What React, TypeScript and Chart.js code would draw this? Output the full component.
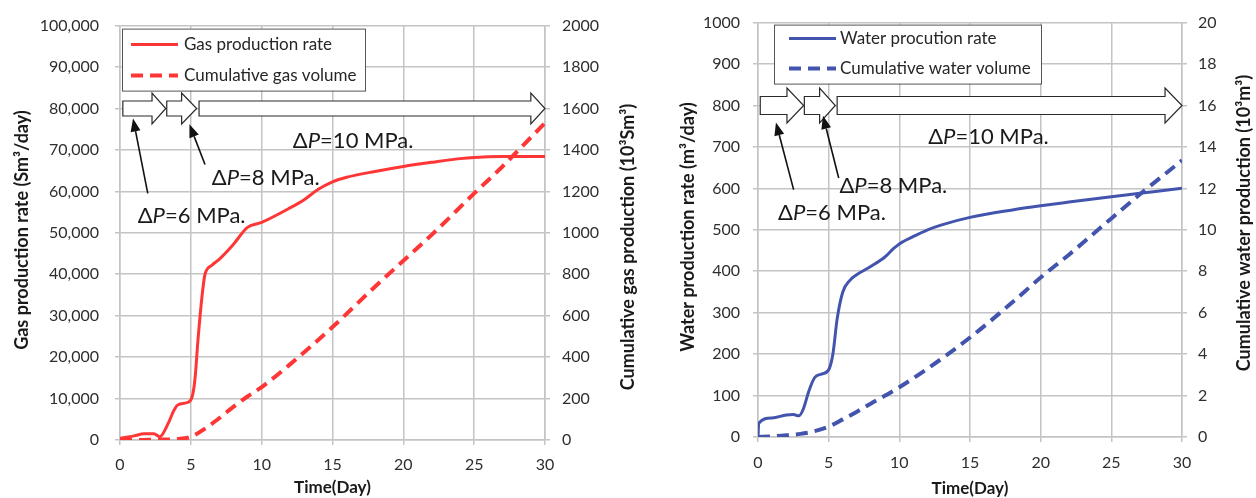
import React, { useEffect, useRef } from "react";
import { Chart, registerables } from "chart.js";

Chart.register(...registerables);

const FONT = "Lato, 'Open Sans', 'DejaVu Sans', sans-serif";

// ---------------- Gas chart data ----------------
const gasRateDays = [0, 1, 1.7, 2.4, 2.8, 3.4, 3.8, 4.1, 4.8, 5.1, 5.3, 5.5, 5.8, 6, 6.5, 7, 8, 9, 10, 12, 13, 14, 15, 16, 18, 20, 22, 24, 25, 27, 30];
const gasRate = [400, 1000, 1500, 1500, 800, 4000, 7100, 8500, 9100, 10500, 15000, 24000, 35000, 40000, 42200, 43600, 47200, 51300, 52500, 56000, 58000, 60500, 62300, 63400, 64800, 66000, 67000, 67900, 68200, 68400, 68400];
const gasCumDays = [0, 1, 2, 3, 4, 5, 6, 7, 8, 9, 10, 12, 15, 18, 20, 22, 25, 27, 28, 30];
const gasCum = [0, 0, 1, 2, 5, 15, 55, 105, 160, 210, 255, 365, 545, 740, 865, 990, 1190, 1320, 1390, 1530];

// ---------------- Water chart data ----------------
const waterRateDays = [0, 0.05, 1, 2, 2.5, 2.9, 3.2, 3.6, 4, 4.5, 5, 5.3, 5.6, 6, 6.5, 7, 8, 9, 9.6, 10, 11, 12, 13, 15, 18, 20, 22, 25, 27, 30];
const waterRate = [0, 33, 46, 53, 54, 51, 67, 111, 143, 152, 162, 200, 285, 350, 378, 392, 412, 435, 455, 466, 484, 500, 512, 530, 548, 558, 567, 580, 588, 600];
const waterCumDays = [0, 1, 2, 3, 4, 5, 6, 7, 8, 9, 10, 12, 15, 18, 20, 22, 25, 27, 30];
const waterCum = [0, 0.03, 0.08, 0.15, 0.28, 0.5, 0.85, 1.22, 1.62, 2.0, 2.4, 3.3, 4.8, 6.5, 7.7, 8.8, 10.55, 11.7, 13.35];

// ---------------- Annotations (data units) ----------------
// pressure stages: [start day, head start day, tip day]
const gasStages = [[0.2, 2.26, 3.23], [3.3, 4.35, 5.41], [5.58, 29.0, 30]];
const gasStageLevel = 80000;
const gasPointers = [
  { from: [1.96, 59500], to: [0.92, 77600] },
  { from: [6.0, 66500], to: [4.9, 76200] },
];
const gasDpLabels = [
  { x: 1.25, y: 54000, v: "6" },
  { x: 6.48, y: 63300, v: "8" },
  { x: 12.2, y: 72200, v: "10" },
];

const waterStages = [[0.16, 2.05, 3.23], [3.28, 4.36, 5.47], [5.6, 28.8, 30]];
const waterStageLevel = 800;
const waterPointers = [
  { from: [2.52, 597], to: [1.27, 759] },
  { from: [5.71, 625], to: [4.6, 775] },
];
const waterDpLabels = [
  { x: 1.42, y: 540, v: "6" },
  { x: 5.76, y: 605, v: "8" },
  { x: 12.04, y: 725, v: "10" },
];

const xTicks = [0, 5, 10, 15, 20, 25, 30];

type Spec = {
  canvasWidth: number;
  left: number;
  top: number;
  xHeight: number;
  yWidth: number;
  y2Width: number;
  yPad: number;
  y2Pad: number;
  xPad: number;
  color: string;
  rateLabel: string;
  cumLabel: string;
  rateDays: number[];
  rate: number[];
  cumDays: number[];
  cum: number[];
  yMax: number;
  yStep: number;
  y2Max: number;
  y2Step: number;
  yComma: boolean;
  stages: number[][];
  stageLevel: number;
  bodyHalf: number;
  headHalf: number;
  pointers: { from: number[]; to: number[] }[];
  dpLabels: { x: number; y: number; v: string }[];
  legend: { dx: number; dy: number; w: number; h: number; sx: number; sw: number; row1: number; row2: number; tx: number };
  leftTitle: string;
  rightTitle: string;
  leftTitlePos: number[];
  rightTitlePos: number[];
  xTitleDy: number;
};

const GRID = "#c4c4c4";
const TICK_COLOR = "#2e2e2e";

function pts(xs: number[], ys: number[]) {
  return xs.map((x, i) => ({ x, y: ys[i] }));
}

function drawBlockArrow(ctx: CanvasRenderingContext2D, x0: number, xh: number, xt: number, y: number, bh: number, hh: number) {
  ctx.beginPath();
  ctx.moveTo(x0, y - bh);
  ctx.lineTo(xh, y - bh);
  ctx.lineTo(xh, y - hh);
  ctx.lineTo(xt, y);
  ctx.lineTo(xh, y + hh);
  ctx.lineTo(xh, y + bh);
  ctx.lineTo(x0, y + bh);
  ctx.closePath();
  ctx.fillStyle = "#ffffff";
  ctx.fill();
  ctx.strokeStyle = "#2a2a2a";
  ctx.lineWidth = 1.2;
  ctx.stroke();
}

function drawPointer(ctx: CanvasRenderingContext2D, x1: number, y1: number, x2: number, y2: number) {
  const ang = Math.atan2(y2 - y1, x2 - x1);
  const hl = 13, hw = 5;
  const bx = x2 - hl * Math.cos(ang), by = y2 - hl * Math.sin(ang);
  ctx.strokeStyle = "#111";
  ctx.lineWidth = 1.6;
  ctx.beginPath();
  ctx.moveTo(x1, y1);
  ctx.lineTo(bx, by);
  ctx.stroke();
  ctx.fillStyle = "#111";
  ctx.beginPath();
  ctx.moveTo(x2, y2);
  ctx.lineTo(bx + hw * Math.sin(ang), by - hw * Math.cos(ang));
  ctx.lineTo(bx - hw * Math.sin(ang), by + hw * Math.cos(ang));
  ctx.closePath();
  ctx.fill();
}

function drawDp(ctx: CanvasRenderingContext2D, x: number, y: number, v: string) {
  const size = 22;
  ctx.fillStyle = "#1a1a1a";
  ctx.textBaseline = "middle";
  ctx.textAlign = "left";
  ctx.font = `${size}px ${FONT}`;
  ctx.fillText("\u0394", x, y);
  let cx = x + ctx.measureText("\u0394").width;
  ctx.font = `italic ${size}px ${FONT}`;
  ctx.fillText("P", cx, y);
  cx += ctx.measureText("P").width;
  ctx.font = `${size}px ${FONT}`;
  ctx.fillText(`=${v} MPa.`, cx, y);
}

function drawVTitle(ctx: CanvasRenderingContext2D, text: string, x: number, y: number) {
  ctx.save();
  ctx.translate(x, y);
  ctx.rotate(-Math.PI / 2);
  ctx.font = `bold 18px ${FONT}`;
  ctx.fillStyle = "#1a1a1a";
  ctx.textAlign = "center";
  ctx.textBaseline = "middle";
  ctx.fillText(text, 0, 0);
  ctx.restore();
}

function annotPlugin(spec: Spec) {
  return {
    id: "annot",
    afterDatasetsDraw(chart: any) {
      const ctx: CanvasRenderingContext2D = chart.ctx;
      const xs = chart.scales.x;
      const ys = chart.scales.y;
      const ca = chart.chartArea;
      ctx.save();
      // stage arrows
      const yc = ys.getPixelForValue(spec.stageLevel);
      for (const [a, b, c] of spec.stages) {
        drawBlockArrow(ctx, xs.getPixelForValue(a), xs.getPixelForValue(b), xs.getPixelForValue(c), yc, spec.bodyHalf, spec.headHalf);
      }
      // pointer arrows
      for (const p of spec.pointers) {
        drawPointer(ctx, xs.getPixelForValue(p.from[0]), ys.getPixelForValue(p.from[1]), xs.getPixelForValue(p.to[0]), ys.getPixelForValue(p.to[1]));
      }
      // delta P labels
      for (const l of spec.dpLabels) {
        drawDp(ctx, xs.getPixelForValue(l.x), ys.getPixelForValue(l.y), l.v);
      }
      // legend
      const lg = spec.legend;
      const lx = ca.left + lg.dx, ly = ca.top + lg.dy;
      ctx.fillStyle = "#ffffff";
      ctx.fillRect(lx, ly, lg.w, lg.h);
      ctx.strokeStyle = "#555";
      ctx.lineWidth = 1;
      ctx.strokeRect(lx + 0.5, ly + 0.5, lg.w, lg.h);
      const dss = chart.data.datasets;
      const rows = [lg.row1, lg.row2];
      dss.forEach((ds: any, i: number) => {
        const ry = ly + rows[i];
        ctx.strokeStyle = ds.borderColor;
        ctx.lineWidth = ds.borderWidth;
        ctx.setLineDash(ds.borderDash || []);
        ctx.beginPath();
        ctx.moveTo(lx + lg.sx, ry);
        ctx.lineTo(lx + lg.sx + lg.sw, ry);
        ctx.stroke();
        ctx.setLineDash([]);
        ctx.fillStyle = "#262626";
        ctx.font = `17px ${FONT}`;
        ctx.textAlign = "left";
        ctx.textBaseline = "middle";
        ctx.fillText(ds.label, lx + lg.tx, ry);
      });
      // axis titles
      drawVTitle(ctx, spec.leftTitle, spec.leftTitlePos[0], spec.leftTitlePos[1]);
      drawVTitle(ctx, spec.rightTitle, spec.rightTitlePos[0], spec.rightTitlePos[1]);
      ctx.font = `bold 17px ${FONT}`;
      ctx.fillStyle = "#1a1a1a";
      ctx.textAlign = "center";
      ctx.textBaseline = "middle";
      ctx.fillText("Time(Day)", (ca.left + ca.right) / 2, ca.bottom + spec.xTitleDy);
      ctx.restore();
    },
  };
}

function buildConfig(spec: Spec): any {
  const tickFont = { family: FONT, size: 16 };
  return {
    type: "line",
    data: {
      datasets: [
        {
          label: spec.rateLabel,
          data: pts(spec.rateDays, spec.rate),
          yAxisID: "y",
          borderColor: spec.color,
          borderWidth: 3,
          pointRadius: 0,
          cubicInterpolationMode: "monotone",
          fill: false,
        },
        {
          label: spec.cumLabel,
          data: pts(spec.cumDays, spec.cum),
          yAxisID: "y2",
          borderColor: spec.color,
          borderWidth: 4,
          borderDash: [12, 7],
          pointRadius: 0,
          cubicInterpolationMode: "monotone",
          fill: false,
        },
      ],
    },
    options: {
      responsive: false,
      animation: false,
      devicePixelRatio: 1,
      layout: { padding: { top: spec.top, left: 0, right: 0, bottom: 0 } },
      plugins: { legend: { display: false }, tooltip: { enabled: false }, title: { display: false } },
      scales: {
        x: {
          type: "linear",
          min: 0,
          max: 30,
          afterBuildTicks: (s: any) => {
            s.ticks = xTicks.map((v) => ({ value: v }));
          },
          ticks: { font: tickFont, color: TICK_COLOR, padding: spec.xPad, maxRotation: 0 },
          grid: { color: GRID, lineWidth: 1.5, tickLength: 5 },
          border: { color: GRID, width: 1.5 },
          afterFit: (s: any) => {
            s.height = spec.xHeight;
          },
        },
        y: {
          position: "left",
          min: 0,
          max: spec.yMax,
          ticks: {
            stepSize: spec.yStep,
            font: tickFont,
            color: TICK_COLOR,
            padding: spec.yPad,
            callback: (v: any) => (spec.yComma ? Number(v).toLocaleString("en-US") : String(v)),
          },
          grid: { color: GRID, lineWidth: 1.5, tickLength: 5 },
          border: { color: GRID, width: 1.5 },
          afterFit: (s: any) => {
            s.width = spec.yWidth;
          },
        },
        y2: {
          position: "right",
          min: 0,
          max: spec.y2Max,
          ticks: {
            stepSize: spec.y2Step,
            font: tickFont,
            color: TICK_COLOR,
            padding: spec.y2Pad,
            callback: (v: any) => String(v),
          },
          grid: { drawOnChartArea: false, color: GRID, lineWidth: 1.5, tickLength: 5 },
          border: { color: GRID, width: 1.5 },
          afterFit: (s: any) => {
            s.width = spec.y2Width;
          },
        },
      },
    },
    plugins: [annotPlugin(spec)],
  };
}

const gasSpec: Spec = {
  canvasWidth: 650,
  left: 0,
  top: 20,
  xHeight: 58,
  yWidth: 120,
  y2Width: 105,
  yPad: 16,
  y2Pad: 12,
  xPad: 10,
  color: "#ff3636",
  rateLabel: "Gas production rate",
  cumLabel: "Cumulative gas volume",
  rateDays: gasRateDays,
  rate: gasRate,
  cumDays: gasCumDays,
  cum: gasCum,
  yMax: 100000,
  yStep: 10000,
  y2Max: 2000,
  y2Step: 200,
  yComma: true,
  stages: gasStages,
  stageLevel: gasStageLevel,
  bodyHalf: 7.5,
  headHalf: 15.5,
  pointers: gasPointers,
  dpLabels: gasDpLabels,
  legend: { dx: 2, dy: 3, w: 243, h: 62, sx: 9, sw: 47, row1: 16, row2: 47, tx: 62 },
  leftTitle: "Gas production rate (Sm\u00b3/day)",
  rightTitle: "Cumulative gas production (10\u00b3Sm\u00b3)",
  leftTitlePos: [22, 230],
  rightTitlePos: [628, 247],
  xTitleDy: 48,
};

const waterSpec: Spec = {
  canvasWidth: 606,
  left: 650,
  top: 17,
  xHeight: 61,
  yWidth: 108,
  y2Width: 74,
  yPad: 13,
  y2Pad: 11,
  xPad: 11,
  color: "#4254ad",
  rateLabel: "Water procution rate",
  cumLabel: "Cumulative water volume",
  rateDays: waterRateDays,
  rate: waterRate,
  cumDays: waterCumDays,
  cum: waterCum,
  yMax: 1000,
  yStep: 100,
  y2Max: 20,
  y2Step: 2,
  yComma: false,
  stages: waterStages,
  stageLevel: waterStageLevel,
  bodyHalf: 9,
  headHalf: 17.5,
  pointers: waterPointers,
  dpLabels: waterDpLabels,
  legend: { dx: 16, dy: 2, w: 267, h: 59, sx: 15, sw: 47, row1: 14, row2: 44, tx: 66 },
  leftTitle: "Water production rate (m\u00b3/day)",
  rightTitle: "Cumulative water production (10\u00b3m\u00b3)",
  leftTitlePos: [38, 227],
  rightTitlePos: [594, 223],
  xTitleDy: 52,
};

function ProdChart({ spec }: { spec: Spec }) {
  const ref = useRef<HTMLCanvasElement>(null);
  useEffect(() => {
    const chart = new Chart(ref.current as HTMLCanvasElement, buildConfig(spec));
    return () => chart.destroy();
  }, [spec]);
  return (
    <canvas
      ref={ref}
      width={spec.canvasWidth}
      height={498}
      style={{ position: "absolute", left: spec.left, top: 0, width: spec.canvasWidth, height: 498 }}
    />
  );
}

export default function App() {
  return (
    <div style={{ position: "absolute", left: 0, top: 0, width: 1256, height: 498, background: "#ffffff", overflow: "hidden" }}>
      <ProdChart spec={gasSpec} />
      <ProdChart spec={waterSpec} />
    </div>
  );
}
